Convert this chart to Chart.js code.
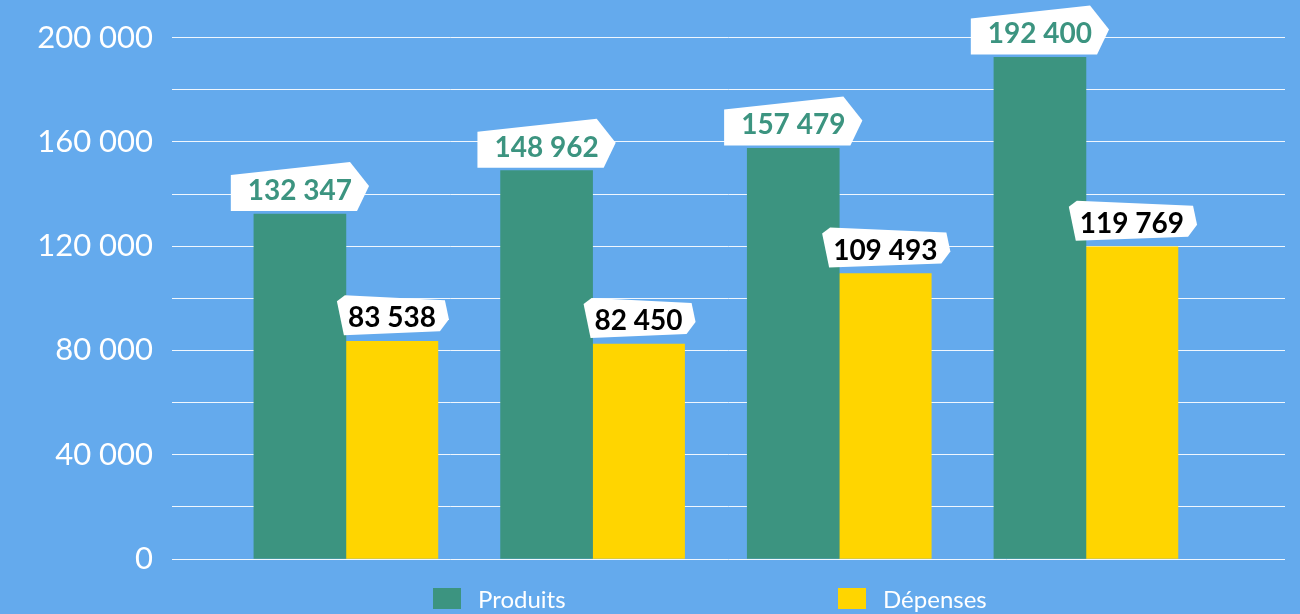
<!DOCTYPE html>
<html lang="fr">
<head>
<meta charset="utf-8">
<title>Produits et dépenses</title>
<script src="https://cdn.jsdelivr.net/npm/chart.js@4/dist/chart.umd.min.js"></script>
<style>
    html, body { margin: 0; padding: 0; background: #64AAED; }
    .zone { position: relative; width: 1300px; height: 614px; }
    #graphique { display: block; }
    .legende { position: absolute; top: 586px; left: 0; width: 1300px; height: 24px; font-family: 'Lato', sans-serif; font-weight: 400; font-size: 24px; color: #fff; }
    .legende .item { position: absolute; top: 0; display: flex; align-items: center; height: 24px; }
    .legende .carre { width: 28px; height: 21px; margin-right: 17px; }
</style>
</head>
<body>
<div class="zone">
    <canvas id="graphique" width="1300" height="614"></canvas>
    <div class="legende" id="legende"></div>
</div>
<script>
// Données
const periodes = ['2019', '2020', '2021', '2022'];
const produits = [132347, 148962, 157479, 192400];
const depenses = [83538, 82450, 109493, 119769];
const graduations = [0, 40000, 80000, 120000, 160000, 200000];

const VERT = '#3C9480';
const JAUNE = '#FFD500';

// Format "132 347"
function formatNombre(v) {
    return String(v).replace(/\B(?=(\d{3})+(?!\d))/g, ' ');
}

// Étiquettes blanches au-dessus des barres
const etiquettes = {
    id: 'etiquettes',
    afterDatasetsDraw(chart) {
        const ctx = chart.ctx;
        ctx.save();
        ctx.font = '700 28px Lato, sans-serif';
        ctx.textAlign = 'center';
        ctx.textBaseline = 'alphabetic';
        chart.data.datasets.forEach((ds, i) => {
            const meta = chart.getDatasetMeta(i);
            meta.data.forEach((barre, j) => {
                const texte = formatNombre(ds.data[j].y);
                const hw = ctx.measureText(texte).width / 2;
                const cx = barre.x;
                const cy = barre.y - 24;
                let forme;
                if (i === 0) {
                    forme = [[-hw - 17, -15], [hw - 2, -28], [hw + 17, -4], [hw + 5, 21], [-hw - 17, 21]];
                } else {
                    forme = [[-hw - 11, -16], [-hw - 3, -22], [hw + 9, -17], [hw + 13, 2], [hw + 4, 14], [-hw - 4, 18]];
                }
                ctx.beginPath();
                forme.forEach((p, k) => {
                    if (k === 0) ctx.moveTo(cx + p[0], cy + p[1]);
                    else ctx.lineTo(cx + p[0], cy + p[1]);
                });
                ctx.closePath();
                ctx.fillStyle = '#fff';
                ctx.fill();
                ctx.fillStyle = i === 0 ? VERT : '#000';
                ctx.fillText(texte, cx, cy + 10);
            });
        });
        ctx.restore();
    }
};

const ctx = document.getElementById('graphique').getContext('2d');
const graphique = new Chart(ctx, {
    type: 'bar',
    data: {
        datasets: [
            { label: 'Produits', data: produits.map((v, i) => ({ x: i, y: v })), backgroundColor: VERT },
            { label: 'Dépenses', data: depenses.map((v, i) => ({ x: i, y: v })), backgroundColor: JAUNE }
        ]
    },
    options: {
        responsive: false,
        animation: false,
        layout: { padding: { top: 35, right: 15, bottom: 55, left: 0 } },
        datasets: { bar: { barThickness: 92, borderWidth: 0 } },
        plugins: { legend: { display: false }, tooltip: { enabled: false } },
        scales: {
            x: {
                type: 'linear',
                display: false,
                offset: false,
                min: -0.705,
                max: 3.807
            },
            y: {
                min: 0,
                max: 200000,
                border: { display: false },
                grid: { color: 'rgba(255,255,255,0.9)', lineWidth: 1, drawTicks: false },
                afterFit(scale) { scale.width = 172; },
                ticks: {
                    stepSize: 20000,
                    padding: 19,
                    color: '#fff',
                    font: { family: "'Lato', sans-serif", size: 31, weight: 400 },
                    callback: (v) => graduations.includes(v) ? formatNombre(v) : ''
                }
            }
        }
    },
    plugins: [etiquettes]
});

// Légende en HTML sous le graphique
const positionsLegende = [433, 838];
const legende = document.getElementById('legende');
graphique.data.datasets.forEach((ds, i) => {
    const item = document.createElement('div');
    item.className = 'item';
    item.style.left = positionsLegende[i] + 'px';
    item.innerHTML = `<span class="carre" style="background:${ds.backgroundColor}"></span><span>${ds.label}</span>`;
    legende.appendChild(item);
});
</script>
</body>
</html>
